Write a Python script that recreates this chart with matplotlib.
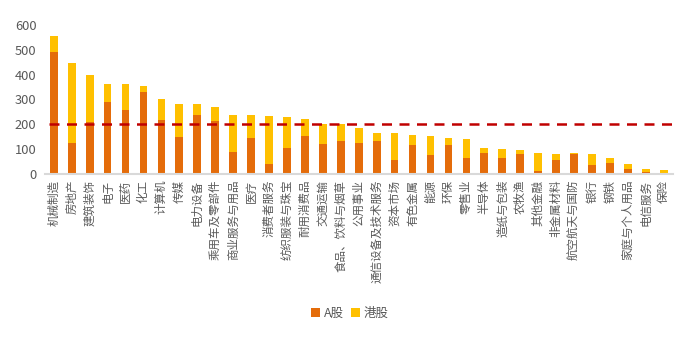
import matplotlib.pyplot as plt
import numpy as np

plt.rcParams['font.family'] = ['Noto Sans CJK SC', 'DejaVu Sans']

industries = ['机械制造', '房地产', '建筑装饰', '电子', '医药', '化工', '计算机', '传媒',
              '电力设备', '乘用车及零部件', '商业服务与用品', '医疗', '消费者服务',
              '纺织服装与珠宝', '耐用消费品', '交通运输', '食品、饮料与烟草', '公用事业',
              '通信设备及技术服务', '资本市场', '有色金属', '能源', '环保', '零售业',
              '半导体', '造纸与包装', '农牧渔', '其他金融', '非金属材料', '航空航天与国防',
              '银行', '钢铁', '家庭与个人用品', '电信服务', '保险']

# A-share counts and combined totals per industry
a_share = [490, 125, 210, 289, 259, 330, 219, 150, 239, 213, 89, 146, 42, 105, 153,
           119, 132, 126, 132, 55, 116, 76, 116, 65, 85, 65, 79, 11, 58, 79, 35, 45,
           19, 8, 4]
total = [557, 447, 400, 363, 363, 356, 300, 282, 282, 271, 236, 239, 234, 230, 223,
         202, 202, 186, 166, 166, 155, 153, 146, 142, 103, 99, 95, 85, 79, 85, 79, 65,
         39, 22, 18]
hk_share = [t - a for t, a in zip(total, a_share)]

gray = '#595959'
fig = plt.figure(figsize=(7, 3.37), dpi=100)
ax = fig.add_axes([0.064, 0.4837, 0.897, 0.4422])

x = np.arange(len(industries))
ax.bar(x, a_share, width=0.43, color='#E46C0A', label='A股', zorder=2)
ax.bar(x, hk_share, width=0.43, bottom=a_share, color='#FFC000', label='港股', zorder=2)

# average line across all industries
avg = np.mean(total)
ax.plot([-0.25, len(industries) - 0.3], [avg, avg], color='#C00000', linewidth=1.8,
        dashes=(4, 3), clip_on=False, zorder=3)

ax.set_xlim(-0.5, len(industries) - 0.5)
ax.set_ylim(0, 600)
ax.set_yticks(range(0, 601, 100))
ax.set_xticks(x)
ax.set_xticklabels(industries, rotation=90, fontsize=8.3, color=gray)
ax.tick_params(axis='y', labelsize=9.3, labelcolor=gray, length=0, pad=6)
ax.tick_params(axis='x', length=0, pad=4)
for side in ['top', 'right', 'left']:
    ax.spines[side].set_visible(False)
ax.spines['bottom'].set_color('#D9D9D9')
ax.spines['bottom'].set_linewidth(1.5)

fig.legend(loc='center', bbox_to_anchor=(0.5, 0.07), ncol=2, frameon=False,
           fontsize=9, handlelength=0.7, handleheight=0.7, handletextpad=0.3,
           columnspacing=0.6, labelcolor=gray)

fig.savefig('out.png', dpi=100)
